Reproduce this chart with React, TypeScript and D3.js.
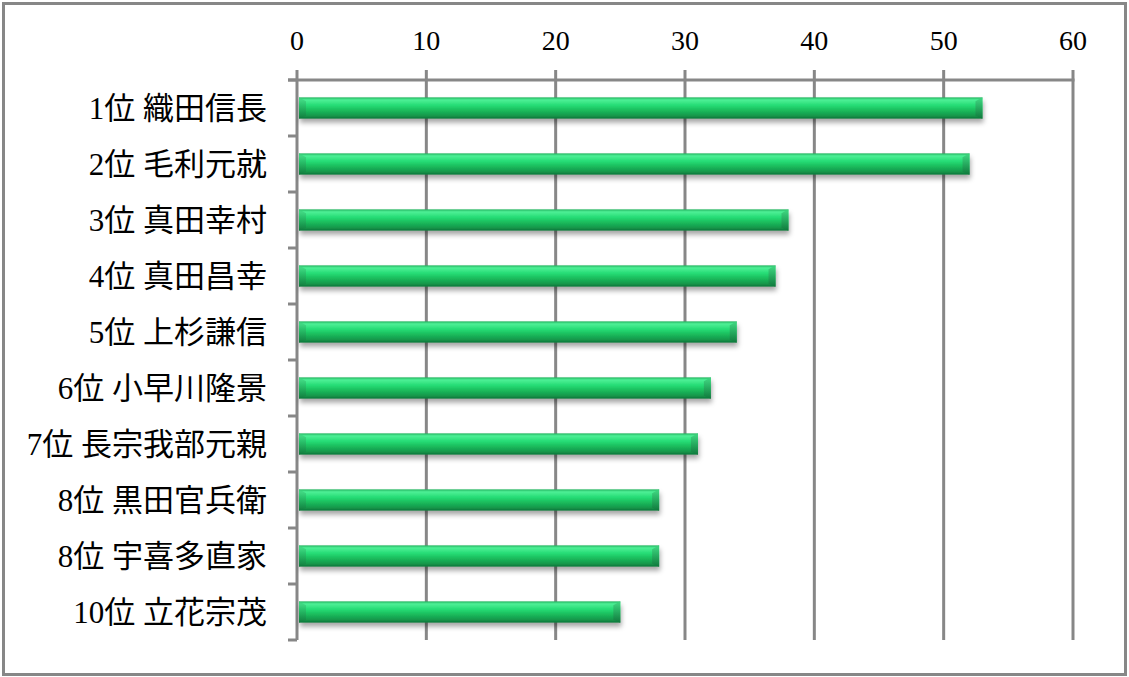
import { scaleLinear, scaleBand, range } from 'd3';

const names = [
  '1位 織田信長',
  '2位 毛利元就',
  '3位 真田幸村',
  '4位 真田昌幸',
  '5位 上杉謙信',
  '6位 小早川隆景',
  '7位 長宗我部元親',
  '8位 黒田官兵衛',
  '8位 宇喜多直家',
  '10位 立花宗茂',
];
const votes = [53, 52, 38, 37, 34, 32, 31, 28, 28, 25];
const xTicks = [0, 10, 20, 30, 40, 50, 60];

const W = 1129;
const H = 677;
const left = 297;
const right = 1073;
const top = 80;
const bottom = 640;
const grey = '#878787';
const font = '"Liberation Serif", "Noto Sans CJK JP", serif';

export default function App() {
  const x = scaleLinear().domain([0, 60]).range([left, right]);
  const y = scaleBand<string>().domain(names).range([top, bottom]).paddingInner(0.62).paddingOuter(0.31);
  const bh = y.bandwidth();
  const step = y.step();

  return (
    <svg width={W} height={H} style={{ position: 'absolute', left: 0, top: 0, background: '#fff' }}>
      <defs>
        <linearGradient id="barFill" x1="0" y1="0" x2="0" y2="1">
          <stop offset="0%" stopColor="#22b45f" />
          <stop offset="12%" stopColor="#4ef096" />
          <stop offset="38%" stopColor="#25db74" />
          <stop offset="60%" stopColor="#1bbd5d" />
          <stop offset="85%" stopColor="#15994b" />
          <stop offset="100%" stopColor="#0e7539" />
        </linearGradient>
        <linearGradient id="capFill" x1="0" y1="0" x2="0" y2="1">
          <stop offset="0%" stopColor="#3fd47f" />
          <stop offset="100%" stopColor="#10773c" />
        </linearGradient>
        <filter id="shadow" x="-5%" y="-50%" width="110%" height="220%">
          <feDropShadow dx="1" dy="4" stdDeviation="2.5" floodColor="#000" floodOpacity="0.35" />
        </filter>
      </defs>

      <rect x={3.5} y={3.5} width={W - 7} height={H - 6} fill="#fff" stroke={grey} strokeWidth={3} />

      {/* grid + top ticks */}
      {xTicks.map(t => (
        <line key={t} x1={x(t)} x2={x(t)} y1={top - 10} y2={bottom} stroke={grey} strokeWidth={3} />
      ))}
      <line x1={left - 9} x2={right + 1.5} y1={top} y2={top} stroke={grey} strokeWidth={3} />
      {range(names.length + 1).map(i => (
        <line key={i} x1={left - 9} x2={left} y1={top + i * step} y2={top + i * step} stroke={grey} strokeWidth={3} />
      ))}

      {xTicks.map(t => (
        <text key={t} x={x(t)} y={50} textAnchor="middle" fontFamily={font} fontSize={28} fill="#000">
          {t}
        </text>
      ))}

      {names.map((n, i) => {
        const y0 = y(n)!;
        const x0 = x(0) + 2;
        const x1 = x(votes[i]);
        const b = 7;
        return (
          <g key={n}>
            <g filter="url(#shadow)">
              <rect x={x0} y={y0} width={x1 - x0} height={bh} fill="url(#barFill)" />
            </g>
            <polygon
              points={`${x1 - b},${y0 + 4} ${x1},${y0} ${x1},${y0 + bh} ${x1 - b},${y0 + bh - 3}`}
              fill="url(#capFill)"
              opacity={0.85}
            />
            <polygon
              points={`${x0},${y0} ${x0 + b},${y0 + 4} ${x0 + b},${y0 + bh - 3} ${x0},${y0 + bh}`}
              fill="url(#capFill)"
              opacity={0.6}
            />
            <text
              x={267}
              y={y0 + bh / 2}
              dy="0.36em"
              textAnchor="end"
              fontFamily={font}
              fontSize={31}
              fill="#000"
            >
              {n}
            </text>
          </g>
        );
      })}
    </svg>
  );
}
